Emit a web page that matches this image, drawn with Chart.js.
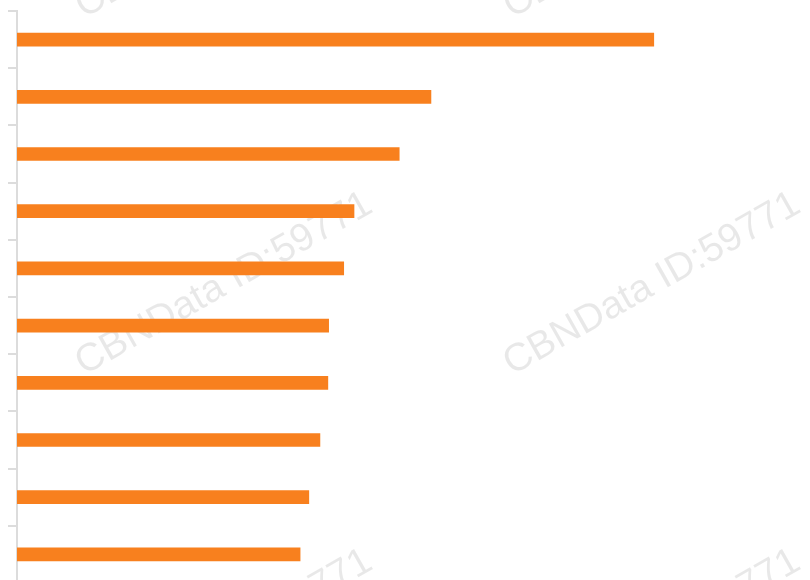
<!DOCTYPE html>
<html>
<head>
<meta charset="utf-8">
<script src="https://cdn.jsdelivr.net/npm/chart.js@4/dist/chart.umd.min.js"></script>
<style>
  html, body { margin: 0; padding: 0; overflow: hidden; background: #fff; }
  #wrap { position: relative; width: 810px; height: 600px; }
</style>
</head>
<body>
<div id="wrap"><canvas id="chart"></canvas></div>
<script>
// --------- Data ----------
const ranks  = ['1', '2', '3', '4', '5', '6', '7', '8', '9', '10'];
const scores = [80.3, 52.2, 48.2, 42.5, 41.2, 39.3, 39.2, 38.2, 36.8, 35.7];
const scoreMax = 100;

const BAR_COLOR  = '#f8801e';
const AXIS_COLOR = '#dcdcdc';

// --------- Watermark ----------
const WATERMARK = 'CBNData ID:59771';

const watermarkPlugin = {
  id: 'watermark',
  beforeDatasetsDraw(chart) {
    const ctx = chart.ctx;
    ctx.save();
    ctx.font = '39px "Liberation Sans", Arial, sans-serif';
    ctx.fillStyle = 'rgba(0, 0, 0, 0.09)';
    ctx.filter = 'blur(0.6px)';
    ctx.textAlign = 'center';
    ctx.textBaseline = 'middle';
    for (let r = -1; r <= 1; r++) {
      for (let c = 0; c < 2; c++) {
        ctx.save();
        ctx.translate(224 + c * 428, 284 + r * 357);
        ctx.rotate(-29.5 * Math.PI / 180);
        ctx.fillText(WATERMARK, 0, 0);
        ctx.restore();
      }
    }
    ctx.restore();
  }
};

// --------- Chart ----------
const ctx = document.getElementById('chart').getContext('2d');
new Chart(ctx, {
  type: 'bar',
  data: {
    labels: ranks,
    datasets: [{
      data: scores,
      backgroundColor: BAR_COLOR,
      barThickness: 13,
      borderWidth: 0
    }]
  },
  options: {
    indexAxis: 'y',
    responsive: true,
    maintainAspectRatio: false,
    animation: false,
    layout: { padding: { left: 8, right: 0, top: 11, bottom: 17 } },
    plugins: {
      legend: { display: false },
      tooltip: { enabled: false }
    },
    scales: {
      x: { display: false, min: 0, max: scoreMax },
      y: {
        grid: {
          drawOnChartArea: false,
          tickLength: 9,
          color: AXIS_COLOR,
          lineWidth: 2
        },
        border: { display: true, color: AXIS_COLOR, width: 2 },
        ticks: { display: false }
      }
    }
  },
  plugins: [watermarkPlugin]
});
</script>
</body>
</html>
